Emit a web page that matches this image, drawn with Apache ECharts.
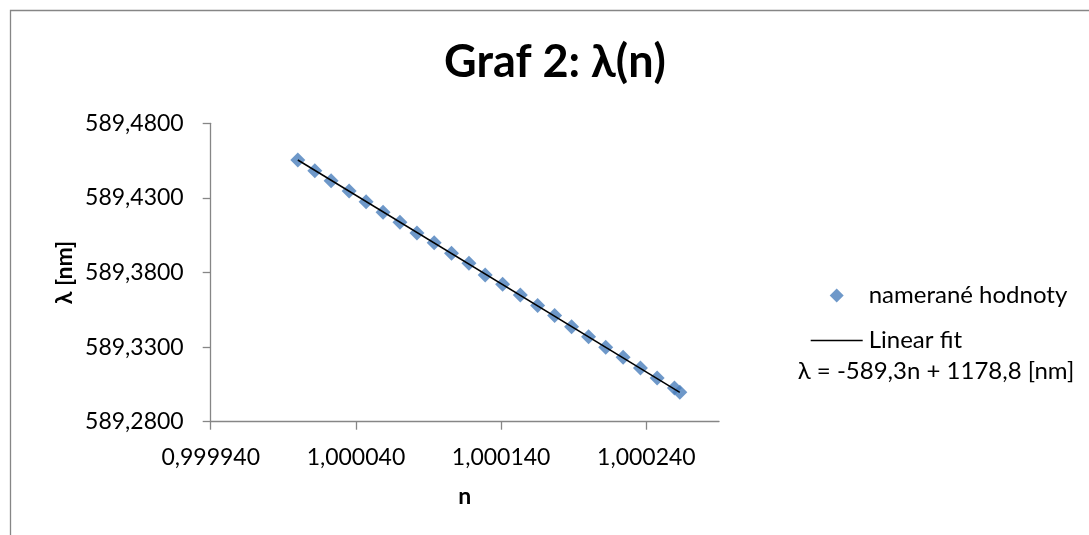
<!DOCTYPE html>
<html>
<head>
<meta charset="utf-8">
<script src="https://cdn.jsdelivr.net/npm/echarts@6/dist/echarts.min.js"></script>
<style>
html,body{margin:0;padding:0;background:#fff;}
#chart{width:1089px;height:535px;}
</style>
</head>
<body>
<div id="chart"></div>
<script>
const titleText = 'Graf 2: λ(n)';
const seriesName = 'namerané hodnoty';
const fitName = 'Linear fit';
const equationText = 'λ = -589,3n + 1178,8 [nm]';
const xAxisName = 'n';
const yAxisName = 'λ [nm]';

const nValues = [1.0000000, 1.0000117, 1.0000229, 1.0000353, 1.0000470, 1.0000587, 1.0000703, 1.0000820,
  1.0000939, 1.0001058, 1.0001178, 1.0001290, 1.0001410, 1.0001532, 1.0001651, 1.0001768,
  1.0001885, 1.0002002, 1.0002120, 1.0002240, 1.0002359, 1.0002474, 1.0002593, 1.0002630];
const lambdaValues = [589.4554, 589.4482, 589.4415, 589.4346, 589.4275, 589.4204, 589.4137, 589.4065,
  589.4000, 589.3929, 589.3862, 589.3783, 589.3721, 589.3649, 589.3578, 589.3511,
  589.3437, 589.3370, 589.3299, 589.3232, 589.3160, 589.3093, 589.3026, 589.2997];

const fitN = [1.0000000, 1.0002630];
const fitLambda = [589.4554, 589.2997];

const xTicks = [0.99994, 1.00004, 1.00014, 1.00024];
const yTicks = [589.28, 589.33, 589.38, 589.43, 589.48];
const xMin = 0.99994, xMax = 1.00029;
const yMin = 589.28, yMax = 589.48;

const FONT = 'Lato';
const AXIS_GRAY = '#868686';

const chart = echarts.init(document.getElementById('chart'), null, {renderer: 'canvas'});
const option = {
  animation: false,
  backgroundColor: '#ffffff',
  textStyle: {fontFamily: FONT},
  grid: {left: 210.7, top: 123.3, right: 370, bottom: 113.3, containLabel: false},
  xAxis: {
    type: 'value', min: xMin, max: xMax,
    name: xAxisName, nameLocation: 'middle', nameGap: 63,
    nameTextStyle: {fontFamily: FONT, fontSize: 23, fontWeight: 'bold', color: '#000'},
    axisLine: {show: true, lineStyle: {color: AXIS_GRAY, width: 1.3}},
    axisTick: {show: true, length: 8, customValues: xTicks, lineStyle: {color: AXIS_GRAY, width: 1.3}},
    axisLabel: {show: true, customValues: xTicks, margin: 24, fontFamily: FONT, fontSize: 23, color: '#000',
      formatter: v => v.toFixed(6).replace('.', ',')},
    splitLine: {show: false}
  },
  yAxis: {
    type: 'value', min: yMin, max: yMax,
    name: yAxisName, nameLocation: 'middle', nameGap: 135,
    nameTextStyle: {fontFamily: FONT, fontSize: 23, fontWeight: 'bold', color: '#000'},
    axisLine: {show: true, lineStyle: {color: AXIS_GRAY, width: 1.3}},
    axisTick: {show: true, length: 8, customValues: yTicks, lineStyle: {color: AXIS_GRAY, width: 1.3}},
    axisLabel: {show: true, customValues: yTicks, margin: 27, fontFamily: FONT, fontSize: 23, color: '#000',
      formatter: v => v.toFixed(4).replace('.', ',')},
    splitLine: {show: false}
  },
  legend: {
    orient: 'vertical', left: 810.7, top: 283, padding: 0,
    itemWidth: 52, itemHeight: 14, itemGap: 20,
    symbolKeepAspect: true,
    textStyle: {fontFamily: FONT, fontSize: 24, color: '#000', lineHeight: 25, padding: [0, 0, 0, 1]},
    data: [
      {name: seriesName, icon: 'path://M0,7L7,0L14,7L7,14Z'},
      {name: fitName, icon: 'path://M0,0H52V1.5H0Z'}
    ]
  },
  graphic: [
    {type: 'rect', silent: true, z: -10,
      shape: {x: 10.5, y: 10.5, width: 1200, height: 700},
      style: {fill: 'none', stroke: AXIS_GRAY, lineWidth: 1.3}},
    {type: 'text', x: 555, y: 62,
      style: {text: titleText, fontFamily: FONT, fontSize: 45, fontWeight: 'bold', fill: '#000',
        align: 'center', verticalAlign: 'middle'}},
    {type: 'text', x: 936, y: 371,
      style: {text: equationText, fontFamily: FONT, fontSize: 24, fill: '#000',
        align: 'center', verticalAlign: 'middle'}}
  ],
  series: [
    {
      name: seriesName, type: 'scatter',
      symbol: 'diamond', symbolSize: 15,
      itemStyle: {color: '#4A7EBB'},
      data: nValues.map((n, i) => [n, lambdaValues[i]]),
      z: 2
    },
    {
      name: fitName, type: 'line',
      symbol: 'none', showSymbol: false,
      lineStyle: {color: '#000', width: 1.5},
      itemStyle: {color: '#000'},
      data: fitN.map((n, i) => [n, fitLambda[i]]),
      z: 3
    }
  ]
};
chart.setOption(option);
</script>
</body>
</html>
